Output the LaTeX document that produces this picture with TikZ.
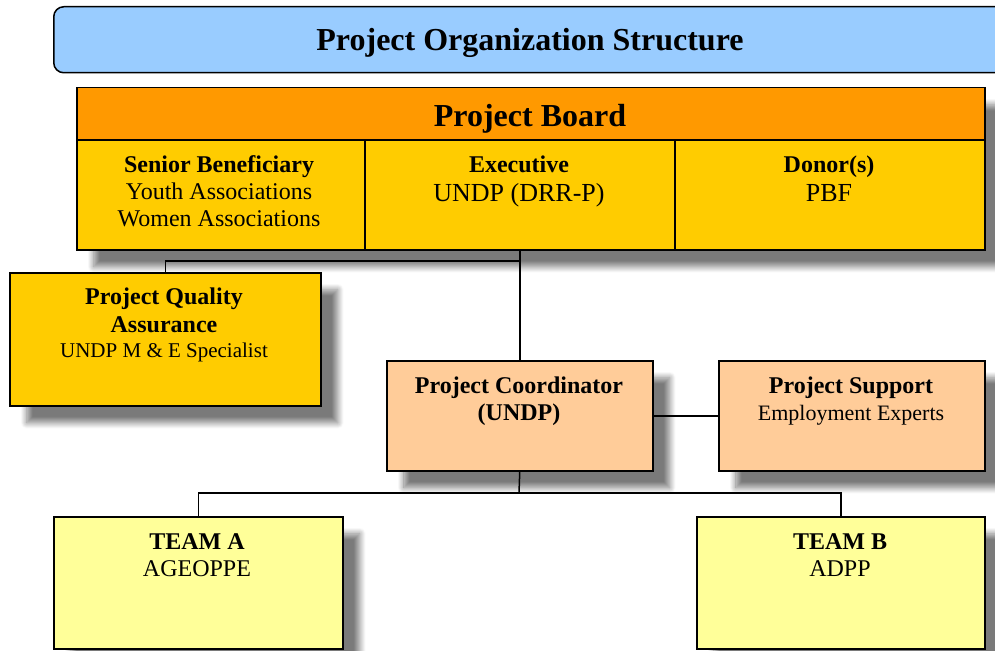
\documentclass[tikz,border=0pt]{standalone}
\usepackage{fontspec}
\setmainfont{Liberation Serif}
\usetikzlibrary{shadows.blur}
\definecolor{titleblue}{HTML}{99CCFF}
\definecolor{boardorange}{HTML}{FF9900}
\definecolor{gold}{HTML}{FFCC00}
\definecolor{peach}{HTML}{FFCC99}
\definecolor{paleyellow}{HTML}{FFFF99}
\tikzset{
  box/.style={draw=black, line width=1.5pt, rectangle, inner sep=0pt, anchor=north west},
  shadebox/.style={blur shadow={shadow xshift=17pt, shadow yshift=-17pt,
      shadow blur radius=6pt, shadow opacity=52, shadow blur steps=12}},
  link/.style={draw=black, line width=1.5pt},
  bighd/.style={font=\fontsize{32}{36}\selectfont\bfseries, anchor=base, inner sep=0pt},
  hd/.style={font=\fontsize{24}{27}\selectfont\bfseries, anchor=base, inner sep=0pt},
  tx/.style={font=\fontsize{24}{27}\selectfont, anchor=base, inner sep=0pt},
  txl/.style={font=\fontsize{26}{29}\selectfont, anchor=base, inner sep=0pt},
  txs/.style={font=\fontsize{21}{24}\selectfont, anchor=base, inner sep=0pt},
  txm/.style={font=\fontsize{22}{25}\selectfont, anchor=base, inner sep=0pt},
}
\begin{document}
\begin{tikzpicture}[x=1pt, y=-1pt]
\useasboundingbox (0,0) rectangle (995,650);
\clip (0,0) rectangle (995,650);

% title banner (runs off the right edge)
\node[box, fill=titleblue, rounded corners=10pt, minimum width=980pt, minimum height=66pt] (title) at (53,6) {};
\node[bighd] (titletext) at (530,51) {Project Organization Structure};

% project board
\node[box, shadebox, fill=gold, minimum width=908pt, minimum height=162pt] (boardframe) at (76,87) {};
\node[box, fill=boardorange, minimum width=908pt, minimum height=52pt] (board) at (76,87) {};
\node[box, fill=gold, minimum width=288pt, minimum height=110pt] (sb) at (76,139) {};
\node[box, fill=gold, minimum width=310pt, minimum height=110pt] (ex) at (364,139) {};
\node[box, fill=gold, minimum width=310pt, minimum height=110pt] (dn) at (674,139) {};
\node[bighd] (boardtext) at (530,127) {Project Board};

\node[hd] (sb1) at (219,172) {Senior Beneficiary};
\node[tx] (sb2) at (219,199) {Youth Associations};
\node[tx] (sb3) at (219,226) {Women Associations};

\node[hd] (ex1) at (519,172) {Executive};
\node[txl] (ex2) at (519,201) {UNDP (DRR-P)};

\node[hd] (dn1) at (829,172) {Donor(s)};
\node[txl] (dn2) at (829,201) {PBF};

% quality assurance
\node[box, shadebox, fill=gold, minimum width=311pt, minimum height=133pt] (qa) at (9,272) {};
\node[hd] (qa1) at (164,304) {Project Quality};
\node[hd] (qa2) at (164,332) {Assurance};
\node[txs] (qa3) at (164,357) {UNDP M \& E Specialist};

% coordination and support
\node[box, shadebox, fill=peach, minimum width=266pt, minimum height=110pt] (coord) at (386,360) {};
\node[hd] (co1) at (519,393) {Project Coordinator};
\node[hd] (co2) at (519,420) {(UNDP)};

\node[box, shadebox, fill=peach, minimum width=266pt, minimum height=110pt] (supp) at (718,360) {};
\node[hd] (su1) at (851,393) {Project Support};
\node[txm] (su2) at (851,420) {Employment Experts};

% teams
\node[box, shadebox, fill=paleyellow, minimum width=289pt, minimum height=132pt] (teamA) at (53,516) {};
\node[hd] (ta1) at (197,549) {TEAM A};
\node[tx] (ta2) at (197,576) {AGEOPPE};

\node[box, shadebox, fill=paleyellow, minimum width=288pt, minimum height=132pt] (teamB) at (696,516) {};
\node[hd] (tb1) at (840,549) {TEAM B};
\node[tx] (tb2) at (840,576) {ADPP};

% connectors
\coordinate (j1) at (519,261);
\coordinate (j2) at (519,493);
\draw[link] (ex.south) -- (coord.north);
\draw[link] (j1) -| (qa.north);
\draw[link] (coord.east) -- (supp.west);
\draw[link] (coord.south) -- (j2);
\draw[link] (j2) -| (teamA.north);
\draw[link] (j2) -| (teamB.north);
\end{tikzpicture}
\end{document}
